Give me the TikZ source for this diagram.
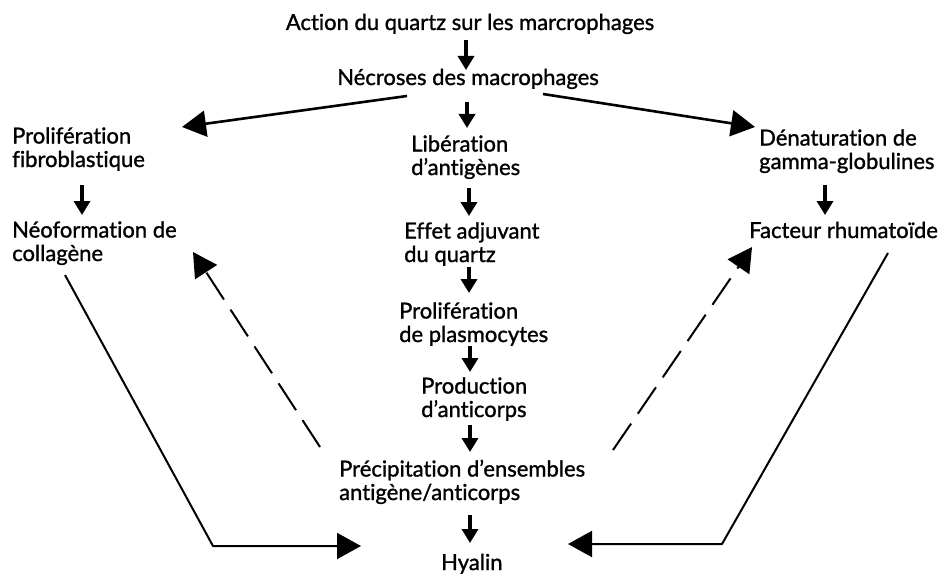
\documentclass[tikz,border=0pt]{standalone}
\usepackage{fontspec}
\setmainfont{Lato}[Ligatures=NoCommon, FakeBold=1.2]
\usetikzlibrary{arrows.meta}
\begin{document}
\begin{tikzpicture}[x=1pt,y=-1pt,
  lbl/.style={inner sep=0pt, font=\fontsize{22}{23.5}\selectfont, align=left, anchor=base west},
  lblc/.style={lbl, anchor=base, align=center},
  shortarr/.style={line width=4.4pt, -{Triangle[length=14pt,width=16pt]}},
  longarr/.style={line width=2pt, line join=round, -{Triangle[length=24pt,width=26pt]}},
  dsh/.style={longarr, dash pattern=on 32pt off 12pt}]
\useasboundingbox (0,0) rectangle (939,575);
% nodes (anchor = baseline of the last line)
\node[lblc] (title) at (470,30) {Action du quartz sur les marcrophages};
\node[lblc] (necr) at (468,85) {Nécroses des macrophages};
\node[lbl] (lib) at (411,175) {Libération\\d’antigènes};
\node[lbl] (eff) at (404,262) {Effet adjuvant\\du quartz};
\node[lbl] (prp) at (399,342) {Prolifération\\de plasmocytes};
\node[lbl] (prod) at (421,417) {Production\\d’anticorps};
\node[lbl] (prec) at (339,500) {Précipitation d’ensembles\\antigène/anticorps};
\node[lbl] (hyal) at (441,570) {Hyalin};
\node[lbl] (pfib) at (12,167) {Prolifération\\fibroblastique};
\node[lbl] (neo) at (12,261) {Néoformation de\\collagène};
\node[lbl] (den) at (759,169) {Dénaturation de\\gamma-globulines};
\node[lbl] (fact) at (749,238) {Facteur rhumatoïde};
% connector end points
\coordinate (a1s) at (466,40);  \coordinate (a1e) at (466,70);
\coordinate (a2s) at (467,102); \coordinate (a2e) at (467,128);
\coordinate (a3s) at (469,188); \coordinate (a3e) at (469,216);
\coordinate (a4s) at (469,267); \coordinate (a4e) at (469,293);
\coordinate (a5s) at (470,346); \coordinate (a5e) at (470,372);
\coordinate (a6s) at (470,425); \coordinate (a6e) at (470,452);
\coordinate (a7s) at (470,515); \coordinate (a7e) at (470,543);
\coordinate (l1s) at (82,185);  \coordinate (l1e) at (82,215);
\coordinate (r1s) at (825,185); \coordinate (r1e) at (825,215);
\coordinate (nl) at (407,96);   \coordinate (nlt) at (182,127);
\coordinate (nr) at (543,94);   \coordinate (nrt) at (755,127);
\coordinate (cls) at (65,275);  \coordinate (clc) at (213,546); \coordinate (clt) at (361,546);
\coordinate (crs) at (888,253); \coordinate (crc) at (722,544); \coordinate (crt) at (568,544);
\coordinate (dls) at (320,447); \coordinate (dlt) at (193,252);
\coordinate (drs) at (613,450); \coordinate (drt) at (752,247);
% short arrows
\draw[shortarr] (a1s) -- (a1e);
\draw[shortarr] (a2s) -- (a2e);
\draw[shortarr] (a3s) -- (a3e);
\draw[shortarr] (a4s) -- (a4e);
\draw[shortarr] (a5s) -- (a5e);
\draw[shortarr] (a6s) -- (a6e);
\draw[shortarr] (a7s) -- (a7e);
\draw[shortarr] (l1s) -- (l1e);
\draw[shortarr] (r1s) -- (r1e);
% long arrows
\draw[longarr, line width=2.6pt] (nl) -- (nlt);
\draw[longarr, line width=2.6pt] (nr) -- (nrt);
\draw[longarr] (cls) -- (clc) -- (clt);
\draw[longarr] (crs) -- (crc) -- (crt);
\draw[dsh] (dls) -- (dlt);
\draw[dsh] (drs) -- (drt);
\end{tikzpicture}
\end{document}
